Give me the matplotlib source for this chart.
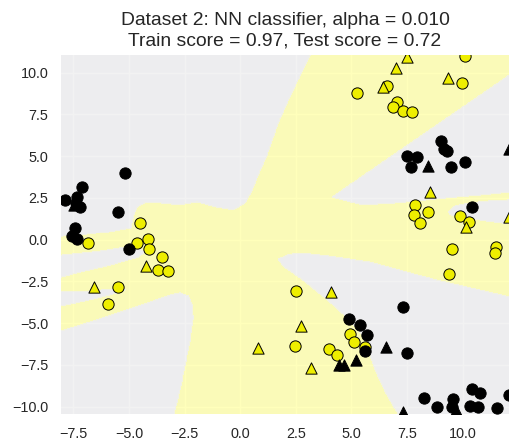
import numpy as np
import matplotlib
matplotlib.use("Agg")
import matplotlib.pyplot as plt
from matplotlib.colors import ListedColormap
from matplotlib.path import Path

plt.rcParams['font.family'] = ['Liberation Sans', 'DejaVu Sans']

# training points (circles)
train_yellow_x = [-6.82, -4.49, -4.62, -4.12, -4.08, -3.52, -3.67, -3.22, -5.47, -5.92,
                  6.59, 5.27, 7.04, 6.86, 7.31, 7.72, 10.11, 9.96,
                  7.87, 7.79, 8.06, 8.46, 9.86, 10.28, 9.51, 11.51, 11.43, 9.39,
                  2.52, 2.47, 4.01, 4.35, 4.94, 5.12, 5.59]
train_yellow_y = [-0.19, 0.97, -0.19, 0.03, -0.59, -1.07, -1.83, -1.89, -2.86, -3.86,
                  9.19, 8.75, 8.25, 7.95, 7.71, 7.65, 10.99, 9.35,
                  2.07, 1.47, 1.01, 1.63, 1.41, 1.05, -0.57, -0.45, -0.83, -2.08,
                  -3.07, -6.35, -6.57, -6.92, -5.66, -6.12, -6.46]
train_black_x = [-7.87, -7.11, -7.34, -7.37, -7.19, -5.17, -5.47, -7.42, -7.56, -7.34, -4.98,
                 9.02, 9.14, 9.29, 7.49, 7.94, 7.67, 9.48, 10.11, 10.41,
                 7.34, 4.91, 5.39, 5.72, 5.62, 7.52,
                 8.24, 8.84, 9.56, 9.51, 10.41, 10.76, 10.31, 10.67, 11.54, 12.06]
train_black_y = [2.37, 3.13, 2.56, 2.19, 1.96, 4.00, 1.66, 0.67, 0.21, 0.01, -0.59,
                 5.92, 5.40, 5.32, 5.00, 4.96, 4.32, 4.32, 4.66, 1.93,
                 -4.02, -4.78, -5.12, -5.72, -6.66, -6.81,
                 -9.47, -10.05, -9.57, -10.05, -8.97, -9.17, -9.97, -10.05, -10.11, -9.31]

# test points (triangles)
test_yellow_x = [-6.56, -4.21, 0.81, 7.49, 7.01, 6.41, 9.32, 8.51, 10.16, 12.10, 4.10, 2.74, 3.18]
test_yellow_y = [-2.84, -1.60, -6.49, 10.95, 10.25, 9.11, 9.65, 2.86, 0.75, 1.37, -3.13, -5.18, -7.69]
test_black_x = [-7.46, 8.42, 12.06, 6.56, 4.46, 4.67, 5.21, 7.31, 9.71]
test_black_y = [2.07, 4.40, 5.44, -6.46, -7.51, -7.51, -7.22, -10.31, -10.21]

# outlines of the areas the classifier assigns to the black class
upper_left = [(-9.0, 12.0), (3.5, 12.0), (3.15, 11.05), (2.38, 8.95), (1.71, 6.98), (1.21, 5.06),
              (0.81, 3.86), (0.54, 2.96), (0.22, 2.19), (-0.31, 1.77), (-1.12, 1.95), (-1.93, 2.25),
              (-2.70, 2.07), (-3.60, 2.19), (-4.27, 2.19), (-4.63, 1.95), (-4.81, 1.35), (-4.90, 0.69),
              (-5.84, 0.45), (-8.04, 0.21), (-9.0, 0.2)]
band_a = [(-9.0, -0.93), (-8.04, -0.93), (-6.29, -0.69), (-5.17, -0.45), (-4.58, -0.51), (-4.27, -0.75),
          (-4.58, -1.05), (-5.84, -1.53), (-7.19, -1.95), (-8.04, -2.25), (-9.0, -2.25)]
band_b = [(-9.0, -3.14), (-8.04, -3.14), (-6.74, -3.08), (-5.75, -2.96), (-5.17, -3.02), (-5.84, -3.32),
          (-6.97, -3.68), (-8.04, -3.98), (-9.0, -3.98)]
lower_left = [(-9.0, -5.48), (-8.04, -5.48), (-6.74, -4.94), (-5.39, -4.34), (-4.04, -3.74), (-3.15, -3.32),
              (-2.70, -3.20), (-2.34, -3.38), (-2.16, -3.92), (-2.11, -4.70), (-2.25, -6.02), (-2.47, -7.51),
              (-2.70, -9.01), (-2.97, -10.45), (-3.06, -11.5), (-9.0, -11.5)]
mid_right = [(4.13, 2.54), (14.0, 11.6), (14.0, 2.9), (12.13, 2.84), (10.79, 2.66), (9.30, 2.49),
             (7.06, 2.19), (5.53, 2.07), (4.94, 2.25)]
right_lobe = [(9.35, 1.65), (9.66, 2.01), (10.34, 2.19), (11.24, 2.31), (12.13, 2.37), (14.0, 2.45),
              (14.0, 0.8), (12.13, 0.93), (11.01, 1.11), (9.98, 1.35), (9.44, 1.47)]
lower_right = [(1.71, -1.17), (2.25, -0.87), (2.83, -0.81), (4.04, -0.99), (5.84, -1.35), (8.85, -2.43),
               (12.13, -3.44), (14.0, -4.0), (14.0, -11.5), (7.3, -11.5), (7.10, -10.45), (6.52, -9.13),
               (6.07, -7.81), (5.75, -6.62), (5.48, -5.72), (4.72, -4.58), (3.82, -3.50), (2.70, -2.31),
               (1.93, -1.59)]
black_regions = [upper_left, band_a, band_b, lower_left, mid_right, right_lobe, lower_right]

x_ticks = [-7.5, -5.0, -2.5, 0.0, 2.5, 5.0, 7.5, 10.0]
y_ticks = [-10.0, -7.5, -5.0, -2.5, 0.0, 2.5, 5.0, 7.5, 10.0]

title = "Dataset 2: NN classifier, alpha = 0.010\nTrain score = 0.97, Test score = 0.72"

cmap_light = ListedColormap(['#FFFFAA', '#EFEFEF'])

fig = plt.figure(figsize=(5.10, 4.42), dpi=100)
ax = fig.add_axes([0.1196, 0.0633, 0.8784, 0.8123])
ax.set_facecolor('#EAEAF2')
ax.grid(color='white', linewidth=1.0)
ax.set_axisbelow(True)
for s in ax.spines.values():
    s.set_visible(False)

# predicted class on a mesh
h = 0.02
xx, yy = np.meshgrid(np.arange(-8.6, 12.8, h), np.arange(-11.0, 11.8, h))
pts = np.c_[xx.ravel(), yy.ravel()]
pred = np.zeros(len(pts))
for region in black_regions:
    pred[Path(region).contains_points(pts)] = 1
pred = pred.reshape(xx.shape)
ax.contourf(xx, yy, pred, levels=[-0.5, 0.5, 1.5], cmap=cmap_light, alpha=0.8)

kw = dict(s=66, edgecolor='black', linewidths=0.7, zorder=3)
ax.scatter(train_yellow_x, train_yellow_y, c='#EEEE00', marker='o', **kw)
ax.scatter(train_black_x, train_black_y, c='#000000', marker='o', **kw)
ax.scatter(test_yellow_x, test_yellow_y, c='#EEEE00', marker='^', **kw)
ax.scatter(test_black_x, test_black_y, c='#000000', marker='^', **kw)

ax.set_xlim(-8.05, 12.08)
ax.set_ylim(-10.45, 11.05)
ax.set_xticks(x_ticks)
ax.set_yticks(y_ticks)
ax.tick_params(length=0, pad=9, labelsize=10.4, colors='.15')
ax.set_title(title, fontsize=13.9, color='.15', pad=7, linespacing=1.25)

fig.savefig('out.png', dpi=100)
